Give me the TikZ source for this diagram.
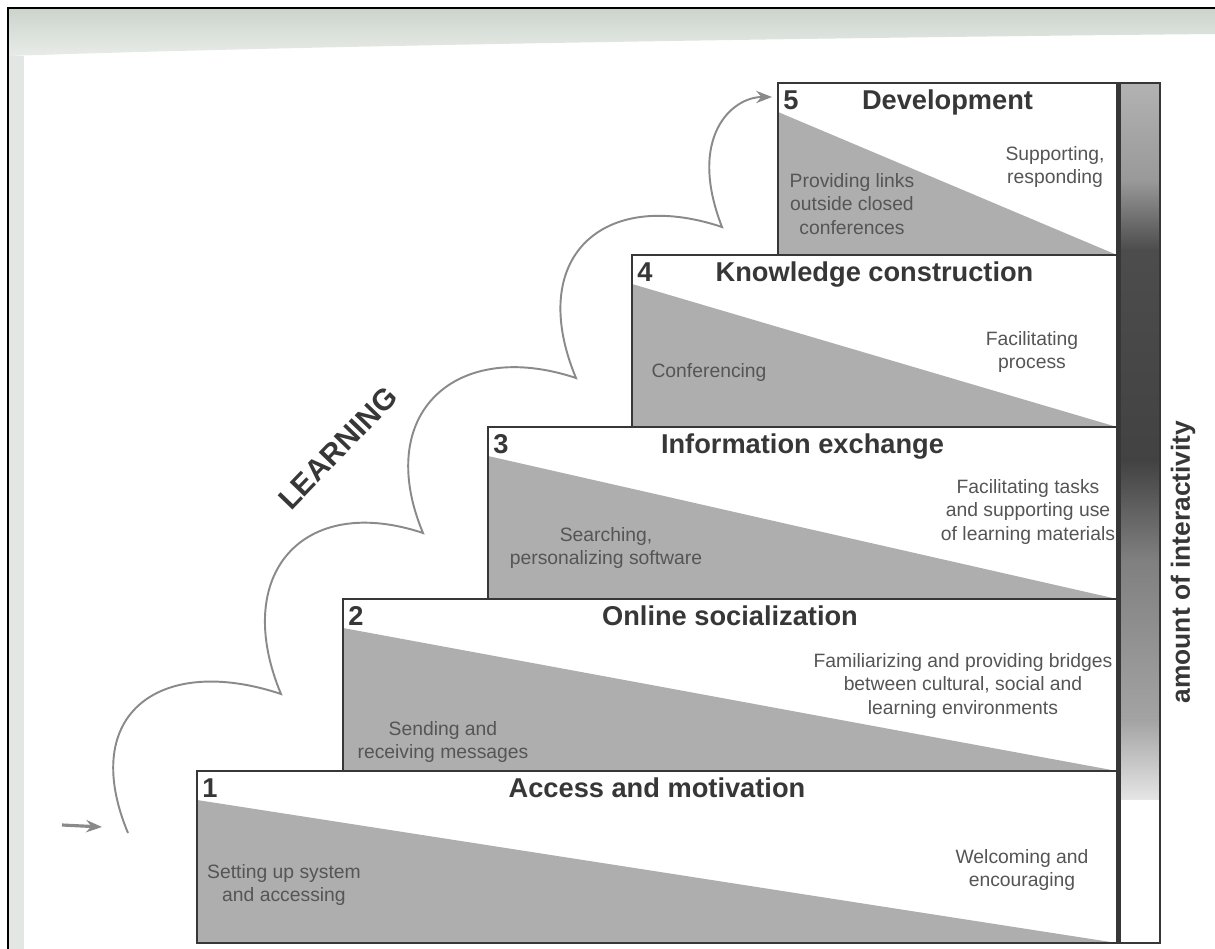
\documentclass[tikz,border=0pt]{standalone}
\usepackage{fontspec}
\setmainfont{Liberation Sans}
\usetikzlibrary{arrows.meta}
\definecolor{ink}{RGB}{55,55,55}
\definecolor{wedgegray}{RGB}{174,174,174}
\definecolor{trail}{RGB}{138,138,138}
\definecolor{scan}{RGB}{204,212,204}
\tikzset{
  stagebox/.style={draw=ink,line width=1.1pt},
  wedgefill/.style={fill=wedgegray},
  stagetitle/.style={font=\fontsize{15.5}{18}\selectfont\bfseries,text=ink,inner sep=0pt,anchor=base},
  stagenum/.style={stagetitle,anchor=base west},
  stagetext/.style={font=\fontsize{11}{13.6}\selectfont,text=ink!85,align=center,inner sep=0pt},
  trailline/.style={draw=trail,line width=1.1pt},
  tip/.style={-{Stealth[length=9pt,width=7pt]}},
}

\begin{document}
\begin{tikzpicture}[x=0.02cm,y=-0.02cm]
  \useasboundingbox (0,0) rectangle (1215,949);
  \fill[white] (0,0) rectangle (1215,949);
  \shade[top color=scan,bottom color=scan!45] (8,9) -- (1215,9) -- (1215,34) .. controls (800,38) and (300,46) .. (8,56) -- cycle;
  \fill[scan!55] (9,56) rectangle (24,949);
  \draw[black,line width=1.4pt] (8,949) -- (8,8) -- (1215,8);

  \foreach \ya/\yb/\ca/\cb in {83/180/black!30/black!40, 180/250/black!40/black!70, 250/460/black!70/black!74, 460/560/black!74/black!50, 560/720/black!50/black!36, 720/800/black!36/black!10}
    \shade[top color=\ca,bottom color=\cb] (1117,\ya) rectangle (1160,\yb);
  \draw[ink,line width=1.1pt] (1117,83) rectangle (1160,943);

  \foreach \i/\x/\y/\t in {1/197/771/Access and motivation, 2/343/599/Online socialization, 3/488/427/Information exchange, 4/632/255/Knowledge construction, 5/778/83/Development}{
    \fill[wedgefill] (\x,\y+29) -- (1117,\y+172) -- (\x,\y+172) -- cycle;
    \draw[stagebox] (\x,\y) rectangle (1117,\y+172);
    \node[stagenum] (num\i) at (\x+5,\y+27) {\i};
    \node[stagetitle] (title\i) at ({(\x+1117)/2},\y+27) {\t};
  }
  \draw[ink,line width=2.8pt] (1119,83) -- (1119,943);

  \node[stagetext] (d1a) at (284,885) {Setting up system\\and accessing};
  \node[stagetext] (d1b) at (1022,870) {Welcoming and\\encouraging};
  \node[stagetext] (d2a) at (443,742) {Sending and\\receiving messages};
  \node[stagetext] (d2b) at (963,686) {Familiarizing and providing bridges\\between cultural, social and\\learning environments};
  \node[stagetext] (d3a) at (606,548) {Searching,\\personalizing software};
  \node[stagetext] (d3b) at (1028,512) {Facilitating tasks\\and supporting use\\of learning materials};
  \node[stagetext] (d4a) at (709,373) {Conferencing};
  \node[stagetext] (d4b) at (1032,352) {Facilitating\\process};
  \node[stagetext] (d5a) at (852,204) {Providing links\\outside closed\\conferences};
  \node[stagetext] (d5b) at (1055,167) {Supporting,\\responding};

  \node[rotate=46,font=\fontsize{17}{20}\selectfont\bfseries,text=ink,inner sep=0pt] (learning) at (338,448) {LEARNING};
  \node[rotate=90,font=\fontsize{15}{18}\selectfont\bfseries,text=ink,inner sep=0pt] (interactivity) at (1183,562) {amount of interactivity};

  \coordinate (in0) at (62,825);
  \coordinate (in1) at (102,827);
  \coordinate (c0) at (128,833);
  \coordinate (c1) at (281,694);
  \coordinate (c2) at (423,533);
  \coordinate (c3) at (576,378);
  \coordinate (c4) at (722,227);
  \coordinate (c5) at (772,97);
  \draw[trailline,line width=1.8pt,tip] (in0) -- (in1);
  \draw[trailline,tip] (c0) .. controls +(-50,-120) and +(-120,-40) .. (c1)
    .. controls +(-50,-120) and +(-120,-40) .. (c2)
    .. controls +(-50,-120) and +(-120,-40) .. (c3)
    .. controls +(-50,-120) and +(-120,-40) .. (c4)
    .. controls +(-35,-90) and +(-40,0) .. (c5);
\end{tikzpicture}
\end{document}
